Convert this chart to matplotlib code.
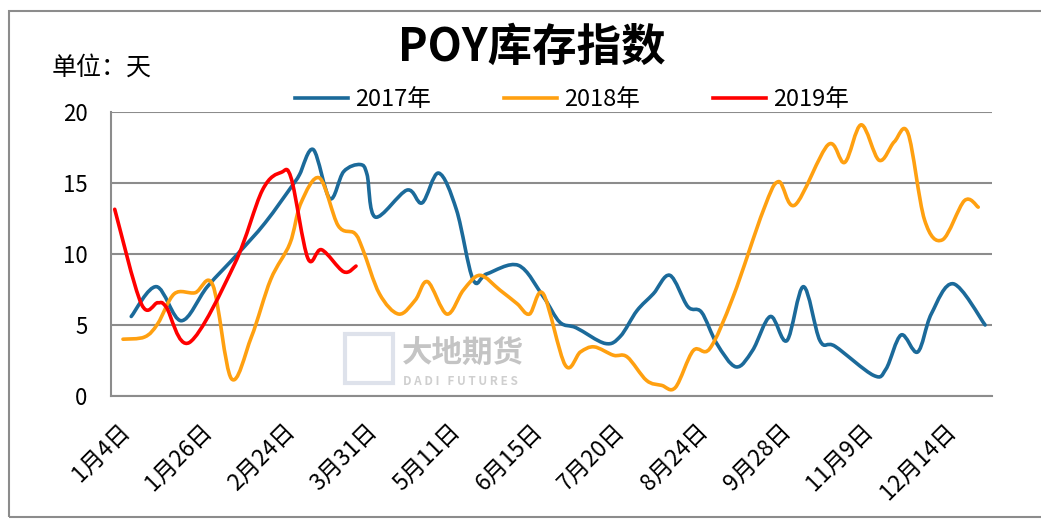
import numpy as np
import matplotlib
matplotlib.use("Agg")
import matplotlib.pyplot as plt
from matplotlib.path import Path
from matplotlib.patches import PathPatch, Rectangle
from matplotlib.lines import Line2D
from matplotlib.transforms import ScaledTranslation

plt.rcParams['font.family'] = ['Noto Sans CJK SC', 'DejaVu Sans']

# ---------------- data (x = category position, y = days) ----------------
tick_pos = [0, 6, 12, 18, 24, 30, 36, 42, 48, 54, 60]
tick_labels = ['1月4日', '1月26日', '2月24日', '3月31日', '5月11日', '6月15日',
               '7月20日', '8月24日', '9月28日', '11月9日', '12月14日']

x2017 = [0.97, 2.8, 4.6, 6.5, 8.7, 10.7, 12.8, 13.2, 14.2, 15.4, 16.4, 17.6, 18.1, 18.7,
         21.0, 22.1, 23.3, 24.6, 25.8, 26.8, 29.1, 30.9, 32.1, 33.3, 35.4, 36.5, 37.7,
         38.9, 40.1, 41.4, 42.4, 43.5, 44.9, 46.1, 47.4, 48.6, 49.8, 51.0, 52.1, 54.9,
         55.8, 56.9, 58.1, 59.1, 60.7, 63.0]
y2017 = [5.6, 7.7, 5.3, 7.7, 10.0, 12.2, 15.0, 15.6, 17.35, 13.9, 15.8, 16.3, 15.6, 12.6,
         14.5, 13.6, 15.7, 13.1, 8.2, 8.6, 9.2, 7.0, 5.2, 4.8, 3.7, 4.2, 6.0,
         7.2, 8.5, 6.3, 5.9, 3.7, 2.05, 3.2, 5.6, 3.9, 7.7, 3.9, 3.5, 1.45,
         1.9, 4.3, 3.1, 5.8, 7.9, 5.0]

x2018 = [0.37, 1.95, 2.9, 4.1, 5.6, 6.9, 8.24, 9.7, 11.1, 12.5, 13.3, 14.65, 16.0, 17.2,
         17.8, 19.0, 20.4, 21.6, 22.5, 23.9, 25.1, 26.3, 27.75, 29.0, 29.9, 30.9, 32.5,
         33.6, 34.6, 36.0, 37.0, 38.4, 39.5, 40.5, 41.8, 43.0, 44.7, 46.9, 48.0, 49.2,
         51.6, 52.8, 54.0, 55.3, 56.4, 57.4, 58.6, 59.9, 61.5, 62.5]
y2018 = [4.0, 4.16, 5.1, 7.2, 7.27, 7.8, 1.23, 4.16, 8.2, 10.75, 13.6, 15.35, 12.0, 11.46,
         10.3, 7.2, 5.77, 6.75, 8.05, 5.77, 7.46, 8.5, 7.46, 6.5, 5.77, 7.2, 2.17,
         3.1, 3.46, 2.87, 2.75, 1.1, 0.75, 0.6, 3.2, 3.34, 7.0, 13.1, 15.1, 13.46,
         17.7, 16.45, 19.1, 16.6, 17.9, 18.5, 12.4, 11.0, 13.76, 13.3]

x2019 = [-0.23, 1.7, 2.9, 3.5, 5.2, 8.5, 10.5, 11.87, 12.6, 13.8, 14.8, 16.4, 17.3]
y2019 = [13.15, 6.5, 6.57, 6.28, 3.77, 9.34, 14.5, 15.75, 15.3, 9.7, 10.3, 8.75, 9.15]

series = [('2017年', x2017, y2017, '#1B6A9A'),
          ('2018年', x2018, y2018, '#FFA010'),
          ('2019年', x2019, y2019, '#FF0000')]


def smooth_path(xs, ys, t=1.0 / 6):
    p = np.column_stack([xs, ys]).astype(float)
    n = len(p)
    verts = [p[0]]
    codes = [Path.MOVETO]
    for i in range(n - 1):
        p0 = p[i - 1] if i > 0 else p[i]
        p1, p2 = p[i], p[i + 1]
        p3 = p[i + 2] if i + 2 < n else p[i + 1]
        verts += [p1 + (p2 - p0) * t, p2 - (p3 - p1) * t, p2]
        codes += [Path.CURVE4] * 3
    return Path(verts, codes)


W, H = 1041, 520
fig = plt.figure(figsize=(W / 100, H / 100), dpi=100)
fig.patch.set_facecolor('white')

# outer border
fig.patches.append(Rectangle((9 / W, 3 / H), 1.2, (H - 14) / H, transform=fig.transFigure,
                             fill=False, edgecolor='#8c8c8c', lw=1.5))

ax = fig.add_axes([111 / W, (H - 396) / H, (992 - 111) / W, (396 - 112) / H])
ax.set_xlim(-0.5, 63.5)
ax.set_ylim(0, 20)
ax.set_yticks([0, 5, 10, 15, 20])
ax.set_yticklabels(['0', '5', '10', '15', '20'], fontsize=16)
ax.set_xticks(tick_pos)
ax.set_xticklabels(tick_labels, rotation=45, ha='right', va='top',
                   rotation_mode='anchor', fontsize=16.5)
shift = ScaledTranslation(-5 / 100, 0, fig.dpi_scale_trans)
for lab in ax.get_xticklabels():
    lab.set_transform(lab.get_transform() + shift)
ax.tick_params(axis='both', length=0)
ax.tick_params(axis='y', pad=17)
ax.tick_params(axis='x', pad=17)
ax.grid(axis='y', color='#8c8c8c', lw=1.5)
ax.set_axisbelow(True)
for s in ['top', 'right']:
    ax.spines[s].set_visible(False)
for s in ['left', 'bottom']:
    ax.spines[s].set_color('#8c8c8c')
    ax.spines[s].set_linewidth(1.5)

# watermark
ax.add_patch(Rectangle((16.5, 0.9), 3.5, 3.5, facecolor='none', edgecolor='#d6dbe6',
                       lw=3, alpha=0.8, zorder=1))
ax.text(20.6, 3.05, '大地期货', fontsize=22, fontweight='bold', color='#c4c4c4',
        va='center', ha='left', zorder=1)
ax.text(20.7, 1.05, 'D A D I   F U T U R E S', fontsize=8.5, fontweight='bold',
        color='#cfcfcf', va='center', ha='left', zorder=1)

handles = []
for name, xs, ys, c in series:
    ax.add_patch(PathPatch(smooth_path(xs, ys), facecolor='none', edgecolor=c, lw=2.6,
                           capstyle='round', joinstyle='round', zorder=3))
    handles.append(Line2D([], [], color=c, lw=2.6, label=name))

fig.legend(handles=handles, loc='center', bbox_to_anchor=(572 / W, 1 - 100 / H), ncol=3,
           frameon=False, fontsize=17, handlelength=2.25, handletextpad=0.3,
           columnspacing=3.1, borderpad=0, borderaxespad=0)

fig.text(532 / W, 1 - 48 / H, 'POY库存指数', fontsize=32, fontweight='bold',
         ha='center', va='center')
fig.text(52 / W, 1 - 68 / H, '单位：天', fontsize=18, ha='left', va='center')

fig.savefig('out.png', dpi=100, facecolor='white')
